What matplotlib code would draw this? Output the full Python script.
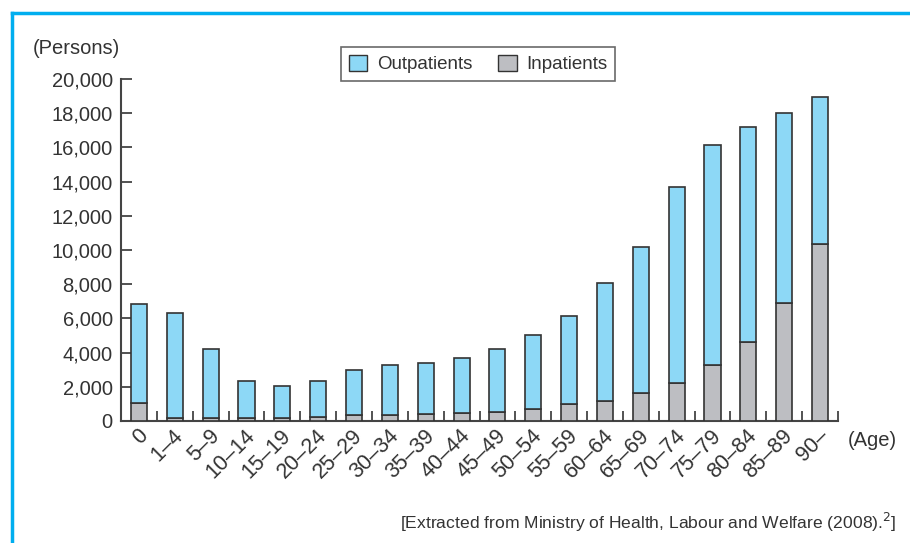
import matplotlib
matplotlib.use("Agg")
import matplotlib.pyplot as plt
import numpy as np
from matplotlib.lines import Line2D
from matplotlib.patches import Patch

plt.rcParams['font.family'] = ['Liberation Sans', 'DejaVu Sans']

ages = ["0", "1\u20134", "5\u20139", "10\u201314", "15\u201319", "20\u201324", "25\u201329",
        "30\u201334", "35\u201339", "40\u201344", "45\u201349", "50\u201354", "55\u201359",
        "60\u201364", "65\u201369", "70\u201374", "75\u201379", "80\u201384", "85\u201389", "90\u2013"]
inpatients = [1070, 200, 150, 150, 190, 220, 330, 330, 390, 450, 540, 700, 1010,
              1170, 1660, 2240, 3260, 4620, 6900, 10370]
outpatients = [5780, 6100, 4040, 2210, 1860, 2120, 2630, 2940, 3000, 3230, 3650, 4330, 5130,
               6920, 8500, 11460, 12880, 12550, 11090, 8560]
yticks = [0, 2000, 4000, 6000, 8000, 10000, 12000, 14000, 16000, 18000, 20000]

BLUE = "#8dd8f6"
GRAY = "#bdbec2"
EDGE = "#333333"
TXT = "#333333"
FRAME = "#00aeef"

fig = plt.figure(figsize=(9.1, 5.43), dpi=100)
ax = fig.add_axes([121/910, 1-421/543, (838-121)/910, (421-79)/543])

x = np.arange(len(ages))
w = 0.45
ax.bar(x, inpatients, width=w, color=GRAY, edgecolor=EDGE, linewidth=1.2, zorder=3)
ax.bar(x, outpatients, width=w, bottom=inpatients, color=BLUE, edgecolor=EDGE, linewidth=1.2, zorder=3)

ax.set_xlim(-0.5, len(ages) - 0.5)
ax.set_ylim(0, 20000)
for s in ["top", "right"]:
    ax.spines[s].set_visible(False)
for s in ["left", "bottom"]:
    ax.spines[s].set_color("#444444")
    ax.spines[s].set_linewidth(1.5)

ax.set_yticks(yticks)
ax.set_yticklabels([f"{v:,}" for v in yticks], fontsize=14.5, color=TXT)
ax.tick_params(axis="y", direction="in", length=8, width=1.3, color="#444444", pad=6)

ax.set_xticks(np.arange(len(ages) + 1) - 0.5)
ax.set_xticklabels([])
ax.tick_params(axis="x", direction="in", length=7, width=1.3, color="#444444")
for i, lab in enumerate(ages):
    ax.text(i - 0.05, -250, lab, rotation=45, ha="right", va="top",
            rotation_mode="anchor", fontsize=15.5, color=TXT)

fig.text(33/910, 1-48/543, "(Persons)", fontsize=14.5, color=TXT, va="center", ha="left")
fig.text(848/910, 1-440/543, "(Age)", fontsize=14.5, color=TXT, va="center", ha="left")
fig.text(897/910, 1-522/543, "[Extracted from Ministry of Health, Labour and Welfare (2008).$^{2}$]",
         fontsize=12.6, color=TXT, va="center", ha="right")

handles = [Patch(facecolor=BLUE, edgecolor=EDGE, label="Outpatients"),
           Patch(facecolor=GRAY, edgecolor=EDGE, label="Inpatients")]
leg = fig.legend(handles=handles, loc="center", bbox_to_anchor=(478/910, 1-64/543), ncol=2,
                 frameon=True, fancybox=False, edgecolor="#444444", fontsize=13.5,
                 handlelength=1.0, handleheight=1.0, columnspacing=1.4, handletextpad=0.5,
                 borderpad=0.4)
leg.get_frame().set_linewidth(1.2)
for t in leg.get_texts():
    t.set_color(TXT)

# frame lines
fig.add_artist(Line2D([12/910, 12/910], [0, 1-13/543], color=FRAME, linewidth=2.5,
                      transform=fig.transFigure))
fig.add_artist(Line2D([12/910, 1], [1-13/543, 1-13/543], color=FRAME, linewidth=2.5,
                      transform=fig.transFigure))

fig.savefig("out.png", dpi=100)
